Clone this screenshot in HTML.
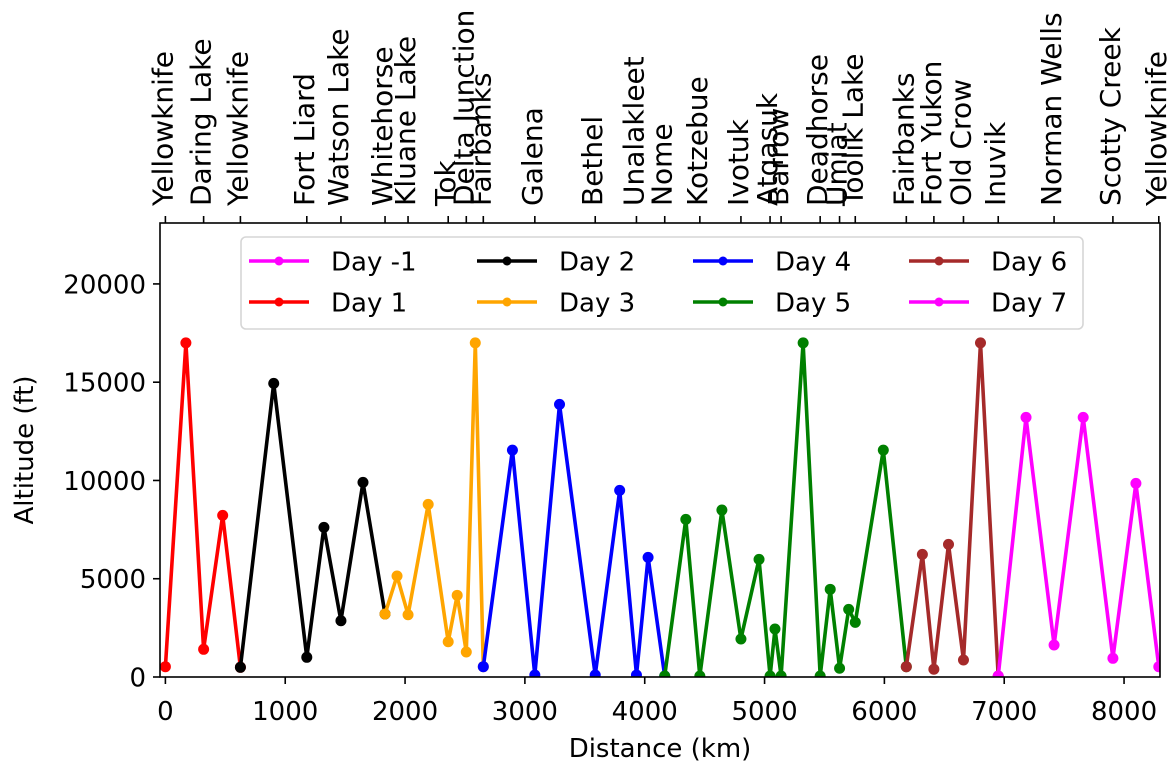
<!DOCTYPE html>
<html><head><meta charset="utf-8"><style>
html,body{margin:0;padding:0;background:#fff;}
svg{display:block;font-family:"DejaVu Sans","Liberation Sans",sans-serif;}
</style></head><body>
<svg id="chart" width="1175" height="776" viewBox="0 0 1175 776" xmlns="http://www.w3.org/2000/svg">
<defs><clipPath id="plotclip"><rect x="160" y="223" width="1000" height="454"/></clipPath></defs>
<rect x="160" y="223" width="1000" height="454" fill="#fff"/>
<g id="series" clip-path="url(#plotclip)"></g>
<rect x="160" y="223" width="1000" height="454" fill="none" stroke="#000" stroke-width="1.6"/>
<g id="axes"></g>
<g id="legend"></g>
<text x="660" y="757" font-size="26" text-anchor="middle">Distance (km)</text>
<text transform="translate(33,450) rotate(-90)" font-size="26" text-anchor="middle">Altitude (ft)</text>
</svg>
<script>
const seriesNames = ["Day -1","Day 1","Day 2","Day 3","Day 4","Day 5","Day 6","Day 7"];
const seriesColors = ["#ff00ff","#ff0000","#000000","#ffa500","#0000ff","#008000","#a52a2a","#ff00ff"];
const dayM1Km = [];
const dayM1Ft = [];
const day1Km = [0,171,319,478,626];
const day1Ft = [524,17000,1409,8225,493];
const day2Km = [626,904,1180,1323,1465,1649,1833];
const day2Ft = [493,14940,1002,7615,2864,9903,3204];
const day3Km = [1833,1933,2025,2193,2360,2435,2511,2586,2653];
const day3Ft = [3204,5137,3169,8784,1796,4156,1272,17000,524];
const day4Km = [2653,2896,3083,3289,3587,3791,3931,4028,4167];
const day4Ft = [524,11546,100,13871,100,9496,100,6089,50];
const day5Km = [4167,4343,4460,4644,4803,4954,5046,5087,5138,5322,5464,5548,5626,5702,5757,5991,6183];
const day5Ft = [50,8021,50,8494,1933,5987,50,2441,50,17000,50,4461,443,3443,2782,11546,524];
const day6Km = [6183,6317,6413,6535,6660,6802,6950];
const day6Ft = [524,6241,392,6750,865,17000,50];
const day7Km = [6950,7182,7416,7659,7907,8099,8290];
const day7Ft = [50,13210,1628,13210,951,9852,524];
const xTicks = [0,1000,2000,3000,4000,5000,6000,7000,8000];
const yTicks = [0,5000,10000,15000,20000];
const waypointNames = ["Yellowknife","Daring Lake","Yellowknife","Fort Liard","Watson Lake","Whitehorse","Kluane Lake","Tok","Delta Junction","Fairbanks","Galena","Bethel","Unalakleet","Nome","Kotzebue","Ivotuk","Atqasuk","Barrow","Deadhorse","Umiat","Toolik Lake","Fairbanks","Fort Yukon","Old Crow","Inuvik","Norman Wells","Scotty Creek","Yellowknife"];
const waypointKm = [0,319,626,1180,1465,1833,2025,2360,2511,2653,3083,3587,3931,4167,4460,4803,5046,5138,5464,5626,5757,6183,6413,6660,6950,7416,7907,8290];

const X0=160,X1=1160,Y0=677,Y1=223, XMIN=-45, XMAX=8300, YMIN=0, YMAX=23100;
function xs(v){return X0+(v-XMIN)/(XMAX-XMIN)*(X1-X0);}
function ys(v){return Y0-(v-YMIN)/(YMAX-YMIN)*(Y0-Y1);}
const NS="http://www.w3.org/2000/svg";
function mk(tag,attrs,parent){const e=document.createElementNS(NS,tag);for(const k in attrs)e.setAttribute(k,attrs[k]);parent.appendChild(e);return e;}

const allKm=[dayM1Km,day1Km,day2Km,day3Km,day4Km,day5Km,day6Km,day7Km];
const allFt=[dayM1Ft,day1Ft,day2Ft,day3Ft,day4Ft,day5Ft,day6Ft,day7Ft];
const sg=document.getElementById('series');
allKm.forEach((kms,i)=>{
  if(!kms.length)return;
  const g=mk('g',{},sg);
  
  
  const pts=kms.map((k,j)=>xs(k).toFixed(1)+','+ys(allFt[i][j]).toFixed(1)).join(' ');
  const pl=mk('polyline',{points:pts,fill:'none',stroke:seriesColors[i],'stroke-width':3.6,'stroke-linejoin':'round'},g);
  
  
  kms.forEach((k,j)=>{
    const c=mk('circle',{cx:xs(k),cy:ys(allFt[i][j]),r:5.5,fill:seriesColors[i]},g);
    
    
  });
});

const ax=document.getElementById('axes');
xTicks.forEach(t=>{
  const x=xs(t);
  const l=mk('line',{x1:x,y1:677,x2:x,y2:684,stroke:'#000','stroke-width':1.6},ax);
  
  
  const tx=mk('text',{x:x,y:720,'font-size':26,'text-anchor':'middle'},ax);
  tx.textContent=t;
  
  
});
yTicks.forEach(t=>{
  const y=ys(t);
  const l=mk('line',{x1:153,y1:y,x2:160,y2:y,stroke:'#000','stroke-width':1.6},ax);
  
  
  const tx=mk('text',{x:146,y:y+9.5,'font-size':26,'text-anchor':'end'},ax);
  tx.textContent=t;
  
  
});
waypointKm.forEach((k,i)=>{
  const x=xs(k);
  const l=mk('line',{x1:x,y1:216,x2:x,y2:223,stroke:'#000','stroke-width':1.6},ax);
  
  
  const tx=mk('text',{transform:'translate('+(x+7)+',206) rotate(-90)','font-size':28,'text-anchor':'start'},ax);
  tx.textContent=waypointNames[i];
  
  
});

const lg=document.getElementById('legend');
const lb=mk('rect',{x:241,y:237,width:842,height:92,rx:5,fill:'#fff','fill-opacity':0.85,stroke:'#d6d6d6','stroke-width':1.6},lg);


const colX=[249,477,693,909], rowY=[261,302];
seriesNames.forEach((n,i)=>{
  const col=Math.floor(i/2), row=i%2;
  const x=colX[col], y=rowY[row];
  const g=mk('g',{},lg);
  
  
  mk('line',{x1:x,y1:y,x2:x+60,y2:y,stroke:seriesColors[i],'stroke-width':3.6},g);
  mk('circle',{cx:x+30,cy:y,r:4.5,fill:seriesColors[i]},g);
  const t=mk('text',{x:x+82,y:y+9.5,'font-size':26},g);
  t.textContent=n;
  
  
});
</script>
</body></html>
